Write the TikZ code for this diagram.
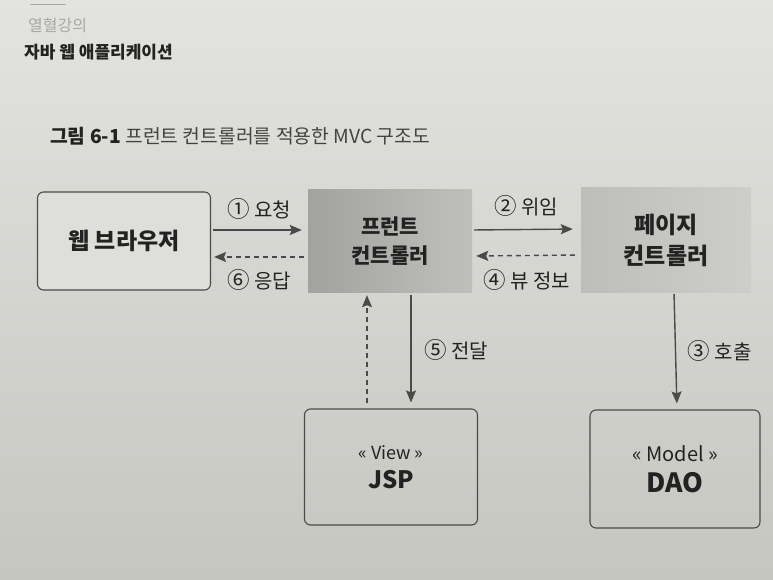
\documentclass[tikz,border=0pt]{standalone}
\usepackage{fontspec}
\setmainfont{Noto Sans CJK KR}
\usetikzlibrary{arrows.meta}
\definecolor{bgtop}{HTML}{E3E3DF}
\definecolor{bgbot}{HTML}{C6C6C1}
\definecolor{ink}{HTML}{222222}
\definecolor{linec}{HTML}{4A4A4A}
\definecolor{hdrgray}{HTML}{A8A8A6}
\definecolor{browserfill}{HTML}{DEDEDA}
\definecolor{fcl}{HTML}{A2A2A0}
\definecolor{fcr}{HTML}{BFBFBC}
\definecolor{pcl}{HTML}{BDBDBA}
\definecolor{pcr}{HTML}{CDCDCA}
\newcommand{\stepnum}[1]{{\fontsize{22.5}{22}\selectfont #1}}
\tikzset{
  outlinebox/.style={draw=linec, line width=1.1pt, rounded corners=6pt, text=ink, align=center},
  mainbox/.style={outlinebox, minimum width=173pt, minimum height=98pt, fill=browserfill,
    font=\fontsize{23}{29}\selectfont\bfseries},
  ctrlbox/.style={minimum width=164pt, minimum height=102pt, text=ink, align=center,
    font=\fontsize{21}{29}\selectfont\bfseries},
  layerbox/.style={outlinebox, minimum width=173pt, minimum height=116pt,
    font=\fontsize{18}{31}\selectfont},
  conn/.style={draw=linec, line width=1.4pt, -{Stealth[length=12pt,width=10pt,inset=2pt]}},
  dconn/.style={conn, dash pattern=on 5pt off 4pt},
  lbl/.style={text=ink, font=\fontsize{20}{22}\selectfont, inner sep=0pt},
}
\begin{document}
\begin{tikzpicture}[x=1pt,y=-1pt]
\path[use as bounding box, top color=bgtop, bottom color=bgbot] (0,0) rectangle (773,580);
% header
\draw[hdrgray, line width=1pt] (30,5) -- (66,5);
\node[anchor=west, text=hdrgray, font=\fontsize{16}{18}\selectfont, inner sep=0pt] (series) at (28,25) {열혈강의};
\node[anchor=west, text=ink, font=\fontsize{17}{20}\selectfont\bfseries, inner sep=0pt] (booktitle) at (24,52) {자바 웹 애플리케이션};
% caption
\node[anchor=west, text=ink, font=\fontsize{19.3}{22}\selectfont, inner sep=0pt] (caption) at (50,136) {{\bfseries 그림 6-1} {\color{ink!85}프런트 컨트롤러를 적용한 MVC 구조도}};
% boxes
\node[mainbox] (browser) at (124,241) {웹 브라우저};
\node[ctrlbox, left color=fcl, right color=fcr] (front) at (390,241) {프런트\\컨트롤러};
\node[ctrlbox, minimum width=170pt, minimum height=104pt, left color=pcl, right color=pcr,
  font=\fontsize{23}{31}\selectfont\bfseries] (page) at (666,240) {페이지\\컨트롤러};
\node[layerbox] (jsp) at (391,467) {« View »\\[-2pt]{\fontsize{24}{31}\selectfont\bfseries JSP}};
\node[layerbox, minimum width=170pt, minimum height=118pt, font=\fontsize{20}{33}\selectfont] (dao) at (675,469) {« Model »\\[-2pt]{\fontsize{26.5}{33}\selectfont\bfseries DAO}};
% connectors
\draw[conn, shorten <=2pt, shorten >=6pt] ([yshift=11pt]browser.east) -- node[lbl, yshift=21pt] (l1) {\stepnum{①} 요청} ([yshift=11pt]front.west);
\draw[dconn, shorten <=4pt, shorten >=3pt] ([yshift=-16pt]front.west) -- node[lbl, yshift=-23pt] (l6) {\stepnum{⑥} 응답} ([yshift=-16pt]browser.east);
\draw[conn, shorten <=2pt, shorten >=8pt] ([yshift=11pt]front.east) -- node[lbl, yshift=24pt] (l2) {\stepnum{②} 위임} ([yshift=11pt]page.west);
\draw[dconn, shorten <=6pt, shorten >=4pt] ([yshift=-15pt]page.west) -- node[lbl, yshift=-24pt] (l4) {\stepnum{④} 뷰 정보} ([yshift=-15pt]front.east);
\draw[conn, shorten <=3pt, shorten >=6pt] ([xshift=21pt]front.south) -- node[lbl, xshift=45pt] (l5) {\stepnum{⑤} 전달} ([xshift=20pt]jsp.north);
\draw[dconn, shorten <=5pt, shorten >=3pt] ([xshift=-24pt]jsp.north) -- ([xshift=-23pt]front.south);
\draw[conn, shorten <=2pt, shorten >=6pt] ([xshift=8pt]page.south) -- node[lbl, xshift=44pt] (l3) {\stepnum{③} 호출} ([xshift=2pt]dao.north);
\end{tikzpicture}
\end{document}
